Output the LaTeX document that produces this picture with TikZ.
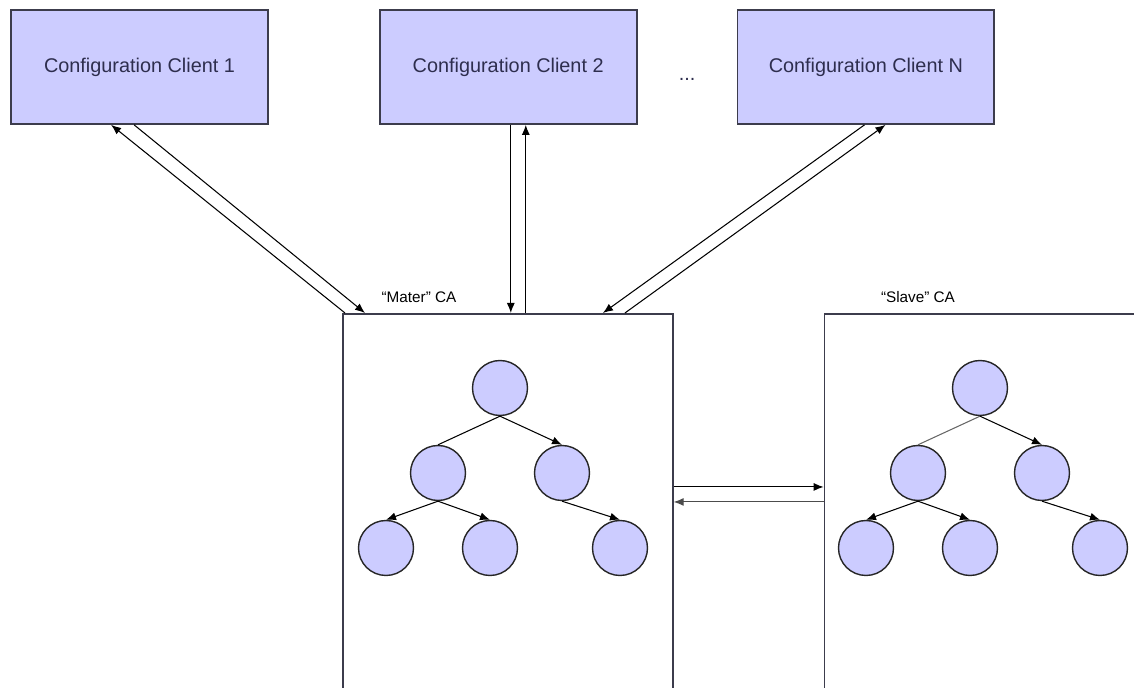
\documentclass[tikz,border=0pt]{standalone}
\usepackage{fontspec}
\setmainfont{Liberation Sans}
\usetikzlibrary{positioning,calc,arrows.meta}
\definecolor{lavender}{HTML}{CCCCFF}
\definecolor{boxline}{HTML}{3C3C4C}
\definecolor{inktext}{HTML}{2E2E4E}

\begin{document}
\begin{tikzpicture}[->, >={Latex[length=2mm,width=1.6mm]}, x=0.02cm, y=-0.02cm,
    client node/.style={rectangle, draw=boxline, fill=lavender, line width=1pt, minimum width=5.14cm, minimum height=2.28cm, text=inktext, font=\fontsize{11.3}{13}\selectfont},
    ca node/.style={rectangle, draw=boxline, line width=1pt, minimum height=7.74cm, anchor=north west},
    tree node/.style={circle, draw=black!85, fill=lavender, line width=0.8pt, minimum size=1.1cm, inner sep=0pt}]
  \tikzstyle{every path}=[line width=0.6pt]
  \useasboundingbox (0,0) rectangle (1134,688);

  % clients
  \node[client node] (c1) at (139.5,67) {Configuration Client 1};
  \node[client node] (c2) [right=2.2cm of c1] {Configuration Client 2};
  \node[client node] (cn) [right=1.98cm of c2] {Configuration Client N};
  \node[font=\fontsize{11.3}{13}\selectfont, text=inktext] (dots) at ($(c2.east)!0.5!(cn.west)+(0,12)$) {...};

  % the two CAs
  \node[ca node, minimum width=6.6cm] (master) at (342,313) {};
  \node[ca node, minimum width=6.36cm] (slave) [right=3cm of master] {};
  \node[font=\fontsize{8.7}{10}\selectfont] (mname) at (419,297) {“Mater” CA};
  \node[font=\fontsize{8.7}{10}\selectfont] (sname) at (918,297) {“Slave” CA};

  % tree of the master
  \node[tree node] (m0) at (500,388) {};
  \node[tree node] (m1) at (438,473) {};
  \node[tree node] (m2) at (562,473) {};
  \node[tree node] (m3) at (386,548) {};
  \node[tree node] (m4) at (490,548) {};
  \node[tree node] (m5) at (620,548) {};

  % tree of the slave
  \node[tree node] (s0) at (980,388) {};
  \node[tree node] (s1) at (918,473) {};
  \node[tree node] (s2) at (1042,473) {};
  \node[tree node] (s3) at (866,548) {};
  \node[tree node] (s4) at (970,548) {};
  \node[tree node] (s5) at (1100,548) {};

  \path (m0.south) edge[-] (m1.north)
                   edge (m2.north)
        (m1.south) edge (m3.north)
                   edge (m4.north)
        (m2.south) edge (m5.north);
  \path (s0.south) edge[-, black!60] (s1.north)
                   edge (s2.north)
        (s1.south) edge (s3.north)
                   edge (s4.north)
        (s2.south) edge (s5.north);

  % clients <-> master
  \draw ([xshift=0.06cm]master.north west) -- ([xshift=2.02cm]c1.south west);
  \draw ([xshift=2.48cm]c1.south west) -- ([xshift=0.46cm]master.north west);
  \draw ([xshift=2.64cm]c2.south west) -- ([xshift=2.64cm]c2.south west |- master.north);
  \draw ([xshift=2.94cm]c2.south west |- master.north) -- ([xshift=2.94cm]c2.south west);
  \draw ([xshift=2.56cm]cn.south west) -- ([xshift=5.22cm]master.north west);
  \draw ([xshift=5.66cm]master.north west) -- ([xshift=2.98cm]cn.south west);

  % master <-> slave
  \draw ([yshift=-3.48cm]master.north east) -- ([yshift=-3.48cm]slave.north west);
  \draw[black!70] ([yshift=-3.78cm]slave.north west) -- ([yshift=-3.78cm]master.north east);
\end{tikzpicture}
\end{document}
